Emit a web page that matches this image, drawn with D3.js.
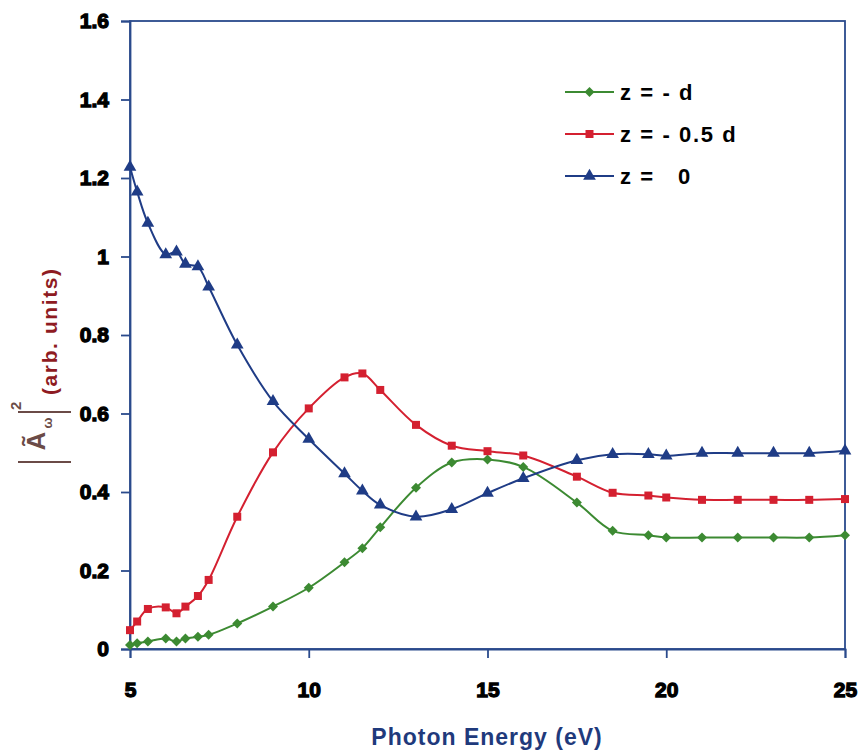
<!DOCTYPE html>
<html><head><meta charset="utf-8">
<script src="https://cdn.jsdelivr.net/npm/d3@7/dist/d3.min.js"></script>
<style>body{margin:0;background:#fff}svg{display:block}</style>
</head><body>
<svg id="c" width="866" height="756"></svg>
<script>
const energies = [5, 5.2, 5.5, 6, 6.3, 6.55, 6.9, 7.2, 8, 9, 10, 11, 11.5, 12, 13, 14, 15, 16, 17.5, 18.5, 19.5, 20, 21, 22, 23, 24, 25];
const zMinusD = [0.010, 0.0145, 0.019, 0.027, 0.019, 0.027, 0.031, 0.036, 0.065, 0.108, 0.156, 0.221, 0.257, 0.310, 0.411, 0.475, 0.483, 0.464, 0.373, 0.301, 0.290, 0.284, 0.284, 0.284, 0.284, 0.284, 0.290];
const zMinusHalfD = [0.048, 0.070, 0.102, 0.106, 0.091, 0.108, 0.135, 0.176, 0.337, 0.501, 0.613, 0.692, 0.702, 0.660, 0.571, 0.518, 0.504, 0.493, 0.439, 0.398, 0.391, 0.386, 0.380, 0.380, 0.380, 0.380, 0.382];
const zZero = [1.228, 1.165, 1.085, 1.005, 1.012, 0.981, 0.974, 0.923, 0.775, 0.631, 0.535, 0.447, 0.403, 0.367, 0.337, 0.356, 0.397, 0.435, 0.481, 0.496, 0.496, 0.492, 0.499, 0.499, 0.499, 0.499, 0.505];
const seriesNames = ["z = - d", "z = - 0.5 d", "z =   0"];
const xTicks = [5, 10, 15, 20, 25];
const yTicks = [0, 0.2, 0.4, 0.6, 0.8, 1, 1.2, 1.4, 1.6];

const series = [
  {name: seriesNames[0], values: zMinusD, color: "#3c8a32", symbol: d3.symbolSquare, size: 50, rot: 45},
  {name: seriesNames[1], values: zMinusHalfD, color: "#d42030", symbol: d3.symbolSquare, size: 64, rot: 0},
  {name: seriesNames[2], values: zZero, color: "#1f3c86", symbol: d3.symbolTriangle, size: 70, rot: 0}
];

const svg = d3.select("#c");
const x = d3.scaleLinear().domain([5, 25]).range([130, 845]);
const y = d3.scaleLinear().domain([0, 1.6]).range([649, 21]);
const axisColor = "#2a4a8c";
const font = "'Liberation Sans', Arial, sans-serif";

svg.append("rect").attr("x", x(5)).attr("y", y(1.6)).attr("width", x(25) - x(5)).attr("height", y(0) - y(1.6))
  .attr("fill", "none").attr("stroke", axisColor).attr("stroke-width", 1.8);

const xAxis = svg.append("g").attr("transform", `translate(0,${y(0)})`)
  .call(d3.axisBottom(x).tickValues(xTicks).tickSize(9).tickPadding(24).tickFormat(d3.format("d")));
const yAxis = svg.append("g").attr("transform", `translate(${x(5)},0)`)
  .call(d3.axisLeft(y).tickValues(yTicks).tickSize(9).tickPadding(12).tickFormat(d => d === 0 || d === 1 ? d3.format("d")(d) : d3.format(".1f")(d)));
[xAxis, yAxis].forEach(a => {
  a.select(".domain").attr("stroke", axisColor).attr("stroke-width", 1.8);
  a.selectAll(".tick line").attr("stroke", axisColor).attr("stroke-width", 1.8);
  a.selectAll(".tick text").attr("fill", "#000").attr("stroke", "#000").attr("stroke-width", 1.3)
    .style("font-family", font).style("font-weight", "bold").style("font-size", "21px");
});

const plot = svg.append("g");
series.forEach(s => {
  const pts = energies.map((e, i) => [e, s.values[i]]);
  plot.append("path").datum(pts)
    .attr("d", d3.line().x(d => x(d[0])).y(d => y(d[1])).curve(d3.curveCatmullRom.alpha(0.5)))
    .attr("fill", "none").attr("stroke", s.color).attr("stroke-width", 2);
  plot.selectAll(null).data(pts).enter().append("path")
    .attr("d", d3.symbol().type(s.symbol).size(s.size))
    .attr("transform", d => `translate(${x(d[0])},${y(d[1])}) rotate(${s.rot})`)
    .attr("fill", s.color);
});

const leg = svg.append("g");
series.forEach((s, i) => {
  const ly = 92 + i * 42;
  leg.append("line").attr("x1", 565).attr("x2", 614).attr("y1", ly).attr("y2", ly).attr("stroke", s.color).attr("stroke-width", 2);
  leg.append("path").attr("d", d3.symbol().type(s.symbol).size(s.size)).attr("transform", `translate(589.5,${ly}) rotate(${s.rot})`).attr("fill", s.color);
  leg.append("text").attr("x", 620).attr("y", ly + 8).text(s.name)
    .attr("xml:space", "preserve").style("white-space", "pre")
    .style("font-family", font).style("font-weight", "bold").style("font-size", "22px")
    .style("letter-spacing", "1.6px").attr("fill", "#000");
});

svg.append("text").attr("x", 487).attr("y", 745).attr("text-anchor", "middle").text("Photon Energy (eV)")
  .style("font-family", font).style("font-weight", "bold").style("font-size", "23px")
  .style("letter-spacing", "1px").attr("fill", "#1f3a7c");

const yl = svg.append("g").attr("transform", "translate(57,395) rotate(-90)");
yl.append("text").attr("x", 0).attr("y", 0).text("(arb. units)")
  .style("font-family", font).style("font-weight", "bold").style("font-size", "21px")
  .style("letter-spacing", "1.6px").attr("fill", "#8e1b22");
const labColor = "#6b4b47";
yl.append("line").attr("x1", -67).attr("x2", -67).attr("y1", -39).attr("y2", 14).attr("stroke", labColor).attr("stroke-width", 2.2);
yl.append("line").attr("x1", -17).attr("x2", -17).attr("y1", -39).attr("y2", 14).attr("stroke", labColor).attr("stroke-width", 2.2);
yl.append("text").attr("x", -46).attr("y", -12).attr("text-anchor", "middle").text("A\u0303")
  .style("font-family", font).style("font-weight", "bold").style("font-size", "26px").attr("fill", labColor);
yl.append("text").attr("x", -28).attr("y", -5).attr("text-anchor", "middle").text("\u03c9")
  .style("font-family", font).style("font-weight", "bold").style("font-size", "13px").attr("fill", labColor);
yl.append("text").attr("x", -15).attr("y", -36).text("2")
  .style("font-family", font).style("font-weight", "bold").style("font-size", "15px").attr("fill", labColor);
</script>
</body></html>
